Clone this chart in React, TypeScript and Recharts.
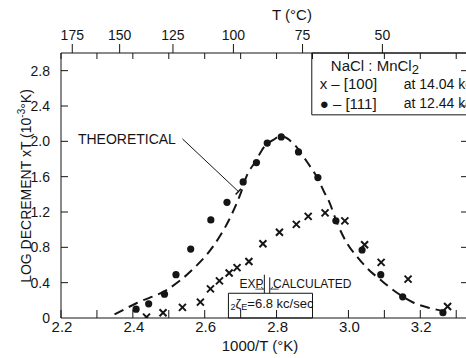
import {
  ComposedChart,
  XAxis,
  YAxis,
  Line,
  Scatter,
  ReferenceArea,
  ReferenceLine,
  ReferenceDot,
} from 'recharts';

// [111] at 12.44 kc/sec (filled dots)
const dotX = [2.409, 2.444, 2.488, 2.52, 2.561, 2.617, 2.662, 2.707, 2.744, 2.774, 2.813, 2.861, 2.915, 2.965, 3.038, 3.09, 3.151, 3.263];
const dotY = [0.1, 0.16, 0.27, 0.49, 0.78, 1.11, 1.31, 1.54, 1.76, 1.98, 2.05, 1.88, 1.59, 1.1, 0.77, 0.49, 0.24, 0.06];

// [100] at 14.04 kc/sec (crosses)
const crossX = [2.438, 2.484, 2.538, 2.588, 2.616, 2.641, 2.668, 2.69, 2.723, 2.762, 2.808, 2.855, 2.888, 2.935, 2.99, 3.045, 3.091, 3.166, 3.276];
const crossY = [0.01, 0.06, 0.12, 0.18, 0.33, 0.42, 0.51, 0.57, 0.64, 0.84, 0.97, 1.06, 1.15, 1.19, 1.1, 0.83, 0.63, 0.44, 0.13];

// theoretical curve (dashed)
const theoryX = [2.349, 2.411, 2.495, 2.569, 2.625, 2.676, 2.699, 2.718, 2.741, 2.764, 2.792, 2.811, 2.848, 2.886, 2.913, 2.932, 2.946, 2.969, 2.997, 3.025, 3.053, 3.09, 3.137, 3.183, 3.23, 3.276];
const theoryY = [0.04, 0.17, 0.32, 0.56, 0.82, 1.18, 1.4, 1.62, 1.77, 1.93, 2.02, 2.06, 1.97, 1.76, 1.59, 1.43, 1.32, 1.07, 0.84, 0.69, 0.56, 0.43, 0.28, 0.17, 0.11, 0.07];

const xTicks = [2.2, 2.3, 2.4, 2.5, 2.6, 2.7, 2.8, 2.9, 3.0, 3.1, 3.2, 3.3];
const xLabels = ['2.2', '', '2.4', '', '2.6', '', '2.8', '', '3.0', '', '3.2', ''];
const yTicks = [0, 0.4, 0.8, 1.2, 1.6, 2.0, 2.4, 2.8];
const yLabels = ['0', '0.4', '0.8', '1.2', '1.6', '2.0', '2.4', '2.8'];
const celsiusTicks = [175, 150, 125, 100, 75, 50];

const celsiusPos = celsiusTicks.map(c => 1000 / (c + 273.15));
const topTicks = [...xTicks, ...celsiusPos];

const dots = dotX.map((x, i) => ({ x, y: dotY[i] }));
const crosses = crossX.map((x, i) => ({ x, y: crossY[i] }));
const theory = theoryX.map((x, i) => ({ x, y: theoryY[i] }));

const INK = '#151515';
const FONT = '"Liberation Sans", Arial, sans-serif';

const BottomTick = ({ x, y, index }: any) => (
  <g>
    <line x1={x} x2={x} y1={y} y2={y - 8} stroke={INK} />
    {xLabels[index] && (
      <text x={x + 1} y={y + 14} textAnchor="middle" fontSize={15} fill={INK} fontFamily={FONT}>
        {xLabels[index]}
      </text>
    )}
  </g>
);

const TopTick = ({ x, y, payload }: any) => {
  const ci = celsiusPos.findIndex(p => Math.abs(p - payload.value) < 1e-9);
  if (ci < 0) return <line x1={x} x2={x} y1={y} y2={y + 6} stroke={INK} />;
  return (
    <g>
      <line x1={x} x2={x} y1={y} y2={y - 9} stroke={INK} />
      <text x={x} y={y - 13} textAnchor="middle" fontSize={14} fill={INK} fontFamily={FONT}>
        {celsiusTicks[ci]}
      </text>
    </g>
  );
};

const LeftTick = ({ x, y, index }: any) => (
  <g>
    {index > 0 && <line x1={x} x2={x + 7} y1={y} y2={y} stroke={INK} />}
    <text x={x - 11} y={y + 5} textAnchor="end" fontSize={14} fill={INK} fontFamily={FONT}>
      {yLabels[index]}
    </text>
  </g>
);

const RightTick = ({ x, y, index }: any) =>
  index > 0 ? <line x1={x} x2={x - 6} y1={y} y2={y} stroke={INK} /> : <g />;

const DotShape = ({ cx, cy }: any) => <circle cx={cx} cy={cy} r={3.6} fill={INK} />;
const CrossShape = ({ cx, cy }: any) => (
  <path d={`M${cx - 3.5},${cy - 3.5}L${cx + 3.5},${cy + 3.5}M${cx + 3.5},${cy - 3.5}L${cx - 3.5},${cy + 3.5}`} stroke={INK} strokeWidth={2} />
);

const txt = (s: string, size: number) => (p: any) => (
  <text x={p.cx} y={p.cy} fontSize={size} fill={INK} fontFamily={FONT} dominantBaseline="central">
    {s}
  </text>
);

export default function App() {
  return (
    <div style={{ position: 'absolute', left: 0, top: 0, width: 466, height: 358, overflow: 'hidden', background: '#fff' }}>
      <ComposedChart width={470} height={358} margin={{ top: 0, right: 0, bottom: 0, left: 0 }}>
        <XAxis
          dataKey="x"
          type="number"
          domain={[2.2, 3.33]}
          ticks={xTicks}
          height={40}
          tickSize={0}
          tickMargin={0}
          tickLine={false}
          axisLine={{ stroke: INK }}
          tick={<BottomTick />}
          interval={0}
          allowDataOverflow
          label={{
            content: (p: any) => (
              <text x={p.viewBox.x + 199} y={p.viewBox.y + 33} textAnchor="middle" fontSize={15} fill={INK} fontFamily={FONT}>
                1000/T (°K)
              </text>
            ),
          }}
        />
        <XAxis
          xAxisId="top"
          orientation="top"
          dataKey="x"
          type="number"
          domain={[2.2, 3.33]}
          ticks={topTicks}
          height={53}
          tickSize={0}
          tickMargin={0}
          tickLine={false}
          axisLine={{ stroke: INK }}
          tick={<TopTick />}
          interval={0}
          allowDataOverflow
          label={{
            content: () => (
              <text x={292} y={20} textAnchor="middle" fontSize={15} fill={INK} fontFamily={FONT}>
                T (°C)
              </text>
            ),
          }}
        />
        <YAxis
          type="number"
          domain={[0, 3]}
          ticks={yTicks}
          width={61}
          tickSize={0}
          tickMargin={0}
          tickLine={false}
          axisLine={{ stroke: INK }}
          tick={<LeftTick />}
          interval={0}
          allowDataOverflow
          label={{
            content: () => (
              <text
                x={26}
                y={186}
                transform="rotate(-90 26 186)"
                textAnchor="middle"
                dominantBaseline="central"
                fontSize={14}
                fill={INK}
                fontFamily={FONT}
              >
                LOG DECREMENT  xT  (10<tspan dy={-5} fontSize={10}>-3</tspan>
                <tspan dy={5}>°K)</tspan>
              </text>
            ),
          }}
        />
        <YAxis
          yAxisId="right"
          orientation="right"
          type="number"
          domain={[0, 3]}
          ticks={yTicks}
          width={3}
          tickSize={0}
          tickMargin={0}
          tickLine={false}
          axisLine={{ stroke: INK }}
          tick={<RightTick />}
          interval={0}
          allowDataOverflow
        />

        {/* legend box */}
        <ReferenceArea x1={2.898} x2={3.33} y1={2.3} y2={3.0} fill="none" stroke={INK} strokeWidth={1} />
        <ReferenceDot
          x={2.951}
          y={2.86}
          r={0}
          shape={(p: any) => (
            <text x={p.cx} y={p.cy} fontSize={15} fill={INK} fontFamily={FONT} dominantBaseline="central">
              NaCl : MnCl<tspan dy={4} fontSize={13}>2</tspan>
            </text>
          )}
        />
        <ReferenceDot x={2.92} y={2.65} r={0} shape={txt('x – [100]', 15)} />
        <ReferenceDot x={3.154} y={2.65} r={0} shape={txt('at 14.04 kc/sec', 14)} />
        <ReferenceDot x={2.92} y={2.43} r={0} shape={txt('● – [111]', 15)} />
        <ReferenceDot x={3.154} y={2.43} r={0} shape={txt('at 12.44 kc/sec', 14)} />

        {/* THEORETICAL leader */}
        <ReferenceDot x={2.247} y={2.028} r={0} shape={txt('THEORETICAL', 14)} />
        <ReferenceLine segment={[{ x: 2.538, y: 2.028 }, { x: 2.694, y: 1.431 }]} stroke={INK} />
        <ReferenceLine segment={[{ x: 2.686, y: 1.398 }, { x: 2.701, y: 1.464 }]} stroke={INK} strokeWidth={1.5} />

        {/* EXP / CALCULATED annotation */}
        <ReferenceArea x1={2.666} x2={2.9} y1={0} y2={0.28} fill="none" stroke={INK} strokeWidth={1} />
        <ReferenceLine segment={[{ x: 2.766, y: 0.49 }, { x: 2.766, y: 0.28 }]} stroke={INK} />
        <ReferenceLine segment={[{ x: 2.781, y: 0.46 }, { x: 2.781, y: 0.28 }]} stroke={INK} />
        <ReferenceLine segment={[{ x: 2.741, y: 0.327 }, { x: 2.764, y: 0.327 }]} stroke={INK} strokeWidth={0.8} />
        <ReferenceLine segment={[{ x: 2.757, y: 0.35 }, { x: 2.764, y: 0.327 }]} stroke={INK} strokeWidth={0.8} />
        <ReferenceLine segment={[{ x: 2.783, y: 0.327 }, { x: 2.806, y: 0.327 }]} stroke={INK} strokeWidth={0.8} />
        <ReferenceLine segment={[{ x: 2.783, y: 0.327 }, { x: 2.79, y: 0.35 }]} stroke={INK} strokeWidth={0.8} />
        <ReferenceDot x={2.697} y={0.39} r={0} shape={txt('EXP', 12)} />
        <ReferenceDot x={2.79} y={0.39} r={0} shape={txt('CALCULATED', 12)} />
        <ReferenceDot
          x={2.672}
          y={0.165}
          r={0}
          shape={(p: any) => (
            <text x={p.cx} y={p.cy} fontSize={13} fill={INK} fontFamily={FONT} dominantBaseline="central">
              <tspan dy={4} fontSize={9}>2</tspan>
              <tspan dy={-4}>ζ</tspan>
              <tspan dy={4} fontSize={9}>E</tspan>
              <tspan dy={-4}>=6.8 kc/sec</tspan>
            </text>
          )}
        />

        <Line
          data={theory}
          dataKey="y"
          type="monotone"
          stroke={INK}
          strokeWidth={2}
          strokeDasharray="10 6"
          dot={false}
          isAnimationActive={false}
        />
        <Scatter data={dots} dataKey="y" shape={<DotShape />} isAnimationActive={false} />
        <Scatter data={crosses} dataKey="y" shape={<CrossShape />} isAnimationActive={false} />
      </ComposedChart>
    </div>
  );
}
